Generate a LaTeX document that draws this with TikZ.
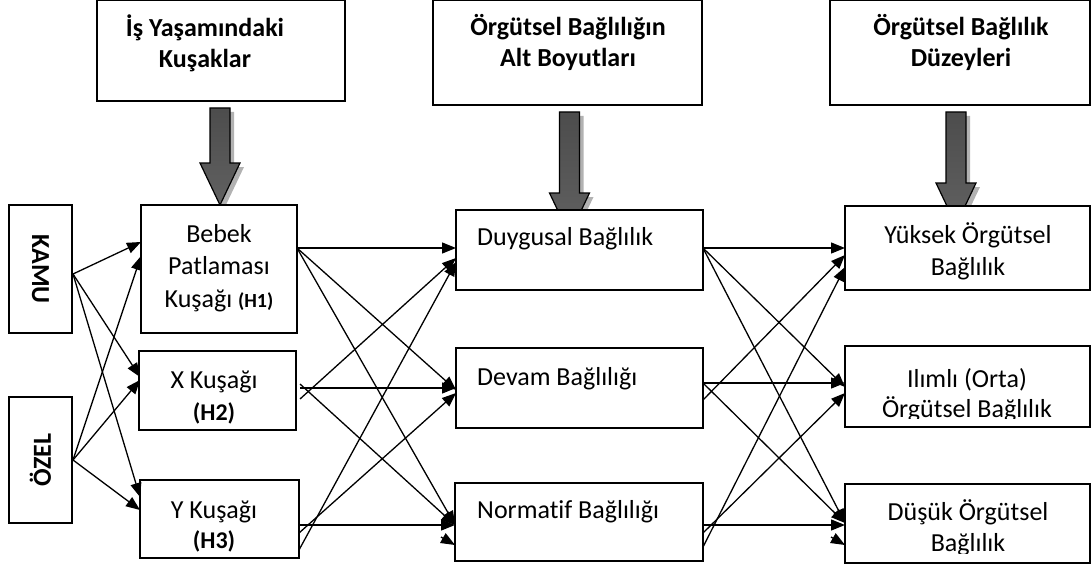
\documentclass[tikz,border=0pt]{standalone}
\usepackage{fontspec}
\setmainfont[Ligatures=NoCommon]{Carlito}
\usetikzlibrary{calc,arrows.meta}
\begin{document}
\begin{tikzpicture}[x=1pt,y=-1pt,
  box/.style={draw=black, line width=1.5pt, fill=white, inner sep=0pt, outer sep=0pt, anchor=north west},
  conn/.style={line width=1.3pt, -{Triangle[length=14pt,width=11pt]}},
  txt/.style={font=\fontsize{26}{31}\selectfont, inner sep=0pt, align=center, anchor=base},
  hd/.style={font=\fontsize{26}{31}\selectfont\bfseries, inner sep=0pt, align=center, anchor=base},
  arrshadow/.style={fill=black!30},
  arrbody/.style={draw=black, line width=1.2pt, top color=black!70, middle color=black, bottom color=black!62},
]
\useasboundingbox (0,0) rectangle (1091,567);

% block arrows (drawn first, boxes cover their tips)
\foreach \cx/\ty/\hy/\tip in {220/108/163/205, 569.5/112/193/235, 956/112/183/225}{
  \begin{scope}[shift={(\cx,0)}]
    \fill[arrshadow] (-6,\ty+4) -- (14,\ty+4) -- (14,\hy+4) -- (24,\hy+4) -- (4,\tip+4) -- (-16,\hy+4) -- (-6,\hy+4) -- cycle;
    \path[arrbody] (-10,\ty) -- (10,\ty) -- (10,\hy) -- (20,\hy) -- (0,\tip) -- (-20,\hy) -- (-10,\hy) -- cycle;
  \end{scope}
}

% top boxes
\node[box, minimum width=248pt, minimum height=101pt] (top1) at (97,0) {};
\node[box, minimum width=269pt, minimum height=105pt] (top2) at (433,0) {};
\node[box, minimum width=260pt, minimum height=105pt] (top3) at (830,0) {};
\node[hd] (top1T) at (205,68) {İş Yaşamındaki\\Kuşaklar};
\node[hd] (top2T) at (568,67) {Örgütsel Bağlılığın\\Alt Boyutları};
\node[hd] (top3T) at (961,67) {Örgütsel Bağlılık\\Düzeyleri};

% left boxes
\node[box, minimum width=63pt, minimum height=128pt] (kamu) at (9,205) {};
\node[box, minimum width=63pt, minimum height=126pt] (ozel) at (9,397) {};
\node[hd, anchor=center, rotate=-90] (kamuT) at (kamu.center) {KAMU};
\node[hd, anchor=center, rotate=90] (ozelT) at (ozel.center) {ÖZEL};

% generation boxes
\node[box, minimum width=156pt, minimum height=128pt] (bebek) at (141,205) {};
\node[box, minimum width=157pt, minimum height=79pt] (xk) at (139,351) {};
\node[box, minimum width=159pt, minimum height=78pt] (yk) at (140,480) {};
\node[txt, font=\fontsize{26}{32.5}\selectfont] (bebekT) at (219,307) {Bebek\\Patlaması\\Kuşağı {\bfseries\fontsize{20}{32.5}\selectfont (H1)}};
\node[txt, font=\fontsize{26}{32}\selectfont] (xkT) at (214,420) {X Kuşağı\\{\bfseries\fontsize{24}{32}\selectfont (H2)}};
\node[txt, font=\fontsize{26}{30}\selectfont] (ykT) at (214,548) {Y Kuşağı\\{\bfseries\fontsize{24}{30}\selectfont (H3)}};

% dimension boxes
\node[box, minimum width=247pt, minimum height=80pt] (duy) at (456,210) {};
\node[box, minimum width=247pt, minimum height=80pt] (dev) at (456,348) {};
\node[box, minimum width=248pt, minimum height=78pt] (nor) at (455,483) {};
\node[txt, anchor=base west] (duyT) at (477,245) {Duygusal Bağlılık};
\node[txt, anchor=base west] (devT) at (477,385) {Devam Bağlılığı};
\node[txt, anchor=base west] (norT) at (477,518) {Normatif Bağlılığı};

% level boxes
\node[box, minimum width=245pt, minimum height=84pt] (yuk) at (845,206) {};
\node[box, minimum width=245pt, minimum height=81pt] (ili) at (845,346) {};
\node[box, minimum width=245pt, minimum height=79pt] (dus) at (845,484) {};
\node[txt, font=\fontsize{26}{32}\selectfont] (yukT) at (968,275) {Yüksek Örgütsel\\Bağlılık};
\begin{scope}
  \clip (ili.north west) rectangle ($(ili.south east)+(0,-9)$);
  \node[txt, font=\fontsize{26}{30}\selectfont] (iliT) at (967,417) {Ilımlı (Orta)\\Örgütsel Bağlılık};
\end{scope}
\begin{scope}
  \clip (dus.north west) rectangle ($(dus.south east)+(0,-10)$);
  \node[txt, font=\fontsize{26}{31}\selectfont] (dusT) at (968,551) {Düşük Örgütsel\\Bağlılık};
\end{scope}

% left connectors
\coordinate (kout) at ($(kamu.north east)+(1,69)$);
\coordinate (oout) at ($(ozel.north east)+(1,63)$);
\draw[conn] (kout) -- ($(bebek.north west)+(0,37)$);
\draw[conn] (kout) -- ($(xk.north west)+(1,26)$);
\draw[conn] (kout) -- ($(yk.north west)+(0,17)$);
\draw[conn] (oout) -- ($(bebek.north west)+(0,51)$);
\draw[conn] (oout) -- ($(xk.north west)+(1,29)$);
\draw[conn] (oout) -- ($(yk.north west)+(0,30)$);

% generation -> dimension
\draw[conn] ($(bebek.north east)+(0,43)$) -- ($(duy.north west)+(0,38)$);
\draw[conn] ($(bebek.north east)+(0,43)$) -- ($(dev.north west)+(0,42)$);
\draw[conn] ($(bebek.north east)+(0,43)$) -- ($(nor.north west)+(0,42)$);
\draw[conn] ($(xk.north east)+(4,48)$) -- ($(duy.north west)+(0,48)$);
\draw[conn] ($(xk.north east)+(4,37)$) -- ($(dev.north west)+(0,40)$);
\draw[conn] ($(xk.north east)+(4,33)$) -- ($(nor.north west)+(0,42)$);
\draw[conn] ($(yk.north east)+(0,45)$) -- ($(nor.north west)+(0,42)$);
\draw[conn] ($(yk.north east)+(0,53)$) -- ($(dev.north west)+(0,45)$);
\draw[conn] ($(yk.north east)+(0,70)$) -- ($(duy.north west)+(0,52)$);
\draw[conn] ($(nor.north west)+(-14,54)$) -- ($(nor.north west)+(0,62)$);

% dimension -> level
\draw[conn] ($(duy.north east)+(0,38)$) -- ($(yuk.north west)+(0,42)$);
\draw[conn] ($(duy.north east)+(0,38)$) -- ($(ili.north west)+(0,41)$);
\draw[conn] ($(duy.north east)+(0,38)$) -- ($(dus.north west)+(0,39)$);
\draw[conn] ($(dev.north east)+(0,35)$) -- ($(ili.north west)+(0,37)$);
\draw[conn] ($(dev.north east)+(0,52)$) -- ($(yuk.north west)+(0,49)$);
\draw[conn] ($(dev.north east)+(0,35)$) -- ($(dus.north west)+(0,39)$);
\draw[conn] ($(nor.north east)+(0,42)$) -- ($(dus.north west)+(0,41)$);
\draw[conn] ($(nor.north east)+(0,50)$) -- ($(ili.north west)+(0,47)$);
\draw[conn] ($(nor.north east)+(0,64)$) -- ($(yuk.north west)+(0,61)$);
\draw[conn] ($(dus.north west)+(-14,53)$) -- ($(dus.north west)+(0,61)$);
\end{tikzpicture}
\end{document}
